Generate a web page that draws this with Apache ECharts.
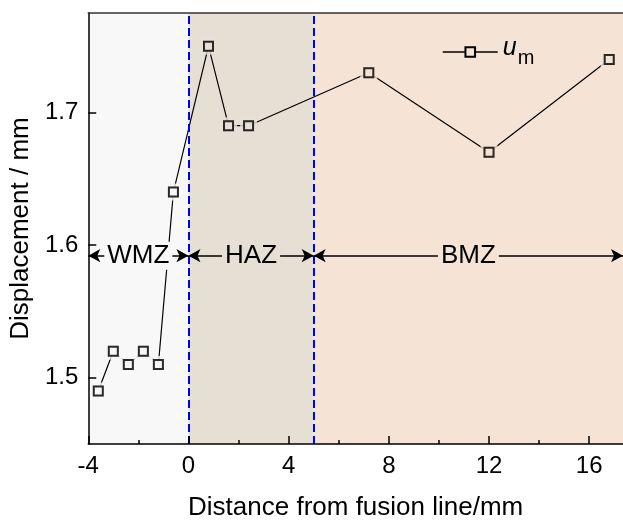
<!DOCTYPE html>
<html>
<head>
<meta charset="utf-8">
<script src="https://cdn.jsdelivr.net/npm/echarts@6/dist/echarts.min.js"></script>
<style>
  html, body { margin: 0; padding: 0; background: #fff; }
  #main { width: 623px; height: 526px; }
</style>
</head>
<body>
<div id="main"></div>
<script>
// measured points (distance from fusion line, mm) and displacement u_m (mm)
var distance = [-3.6, -3.0, -2.4, -1.8, -1.2, -0.6, 0.8, 1.6, 2.4, 7.2, 12, 16.8];
var displacement = [1.49, 1.52, 1.51, 1.52, 1.51, 1.64, 1.75, 1.69, 1.69, 1.73, 1.67, 1.74];

// zones
var zoneNames = ['WMZ', 'HAZ', 'BMZ'];
var zoneStart = [-4, 0, 5];
var zoneEnd = [0, 5, 17.35];
var zoneBounds = [0, 5];
var arrowLevel = 1.592;

// ticks
var xLabels = [-4, 0, 4, 8, 12, 16];
var xMinor = [-2, 2, 6, 10, 14];
var yLabels = [1.5, 1.6, 1.7];

var zoneColors = ['#f8f8f8', '#e6e0d4', '#f5e3d5'];
var font = 'Liberation Sans, Arial, sans-serif';

function zoneColorAt(x) {
  for (var i = 0; i < zoneStart.length; i++) {
    if (x >= zoneStart[i] && x < zoneEnd[i]) return zoneColors[i];
  }
  return zoneColors[zoneColors.length - 1];
}

var points = distance.map(function (d, i) { return [d, displacement[i]]; });

var chart = echarts.init(document.getElementById('main'));

var option = {
  animation: false,
  backgroundColor: '#fff',
  grid: { left: 84, right: 0, top: 13, bottom: 77 },
  legend: {
    data: ['u_m'],
    left: 437,
    top: 31,
    itemWidth: 55,
    itemHeight: 12,
    itemStyle: { color: zoneColors[2], borderColor: '#000', borderWidth: 2 },
    lineStyle: { color: '#000', width: 1.5 },
    formatter: '{u|u}{m|m}',
    textStyle: {
      color: '#000',
      fontFamily: font,
      rich: {
        u: { fontSize: 25, fontStyle: 'italic', fontFamily: font, verticalAlign: 'bottom', padding: [0, 1, 7, 0] },
        m: { fontSize: 20, fontFamily: font, verticalAlign: 'bottom' }
      }
    }
  },
  xAxis: [
    {
      type: 'value', min: -4, max: 17.35, position: 'bottom', z: 6,
      axisLine: { show: true, onZero: false, lineStyle: { color: '#000', width: 1.5 } },
      axisTick: { show: true, inside: true, length: 8, customValues: xLabels, lineStyle: { color: '#000', width: 1.5 } },
      axisLabel: { customValues: xLabels, fontSize: 24, color: '#000', fontFamily: font, margin: 10 },
      splitLine: { show: false },
      name: 'Distance from fusion line/mm',
      nameLocation: 'middle',
      nameGap: 51,
      nameTextStyle: { fontSize: 26, color: '#000', fontFamily: font }
    },
    {
      type: 'value', min: -4, max: 17.35, position: 'bottom', z: 6,
      axisLine: { show: false, onZero: false },
      axisTick: { show: true, inside: true, length: 4, customValues: xMinor, lineStyle: { color: '#000', width: 1.5 } },
      axisLabel: { show: false },
      splitLine: { show: false }
    },
    {
      type: 'value', min: -4, max: 17.35, position: 'top', z: 6,
      axisLine: { show: true, onZero: false, lineStyle: { color: '#333', width: 1.5 } },
      axisTick: { show: false },
      axisLabel: { show: false },
      splitLine: { show: false }
    }
  ],
  yAxis: {
    type: 'value', min: 1.45, max: 1.775, z: 6,
    axisLine: { show: true, onZero: false, lineStyle: { color: '#000', width: 1.5 } },
    axisTick: { show: true, inside: true, length: 8, customValues: yLabels, lineStyle: { color: '#000', width: 1.5 } },
    axisLabel: {
      customValues: yLabels, fontSize: 24, color: '#000', fontFamily: font, margin: 10,
      formatter: function (v) { return v.toFixed(1); }
    },
    splitLine: { show: false },
    name: 'Displacement / mm',
    nameLocation: 'middle',
    nameGap: 52,
    nameTextStyle: { fontSize: 26, color: '#000', fontFamily: font }
  },
  series: [
    {
      // zone backgrounds
      type: 'line', data: [], z: 0, silent: true,
      markArea: {
        silent: true,
        itemStyle: { opacity: 1 },
        data: zoneNames.map(function (n, i) {
          return [{ xAxis: zoneStart[i], itemStyle: { color: zoneColors[i], opacity: 1 } }, { xAxis: zoneEnd[i] }];
        })
      }
    },
    {
      // blue dashed zone boundaries
      type: 'line', data: [], z: 1, silent: true,
      markLine: {
        silent: true,
        symbol: 'none',
        label: { show: false },
        lineStyle: { color: '#0000ff', type: [8, 4], width: 2 },
        data: zoneBounds.map(function (b) { return { xAxis: b }; })
      }
    },
    {
      // double arrows spanning each zone, with the zone name in the middle
      type: 'line', data: [], z: 2, silent: true,
      markLine: {
        silent: true,
        symbol: ['arrow', 'arrow'],
        symbolSize: [10, 12],
        label: {
          show: true, position: 'middle', verticalAlign: 'middle', align: 'center',
          fontSize: 26, color: '#000', fontFamily: font,
          padding: [1, 3], distance: 0
        },
        lineStyle: { color: '#000', width: 1.5, type: 'solid' },
        data: zoneNames.map(function (n, i) {
          return [
            { name: n, coord: [zoneStart[i], arrowLevel], label: { formatter: n, backgroundColor: zoneColors[i] } },
            { coord: [zoneEnd[i], arrowLevel] }
          ];
        })
      }
    },
    {
      name: 'u_m',
      type: 'line', z: 3,
      data: points,
      symbol: 'rect', symbolSize: 9,
      itemStyle: { color: zoneColors[2], borderColor: '#000', borderWidth: 2 },
      lineStyle: { color: '#000', width: 1.2 }
    },
    {
      // gap around the markers
      type: 'scatter', z: 4, silent: true,
      data: points,
      symbol: 'rect', symbolSize: 17,
      itemStyle: { color: function (p) { return zoneColorAt(p.value[0]); } }
    },
    {
      // hollow square markers
      type: 'scatter', z: 5, silent: true,
      data: points,
      symbol: 'rect', symbolSize: 9,
      itemStyle: {
        color: function (p) { return zoneColorAt(p.value[0]); },
        borderColor: '#000', borderWidth: 2
      }
    }
  ]
};

chart.setOption(option);
</script>
</body>
</html>
